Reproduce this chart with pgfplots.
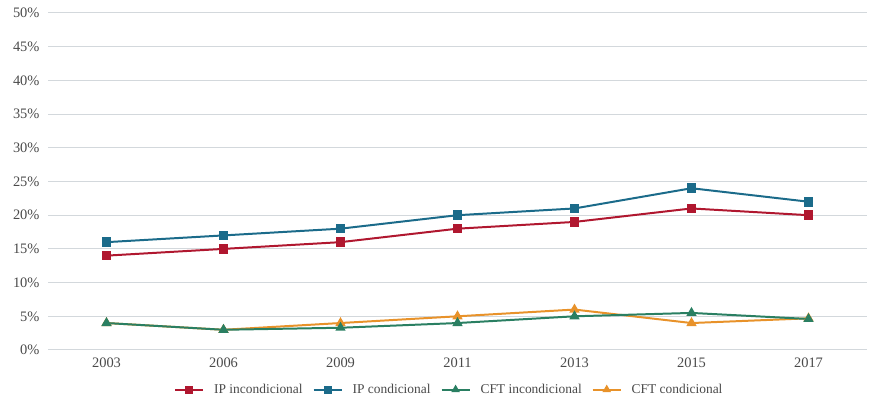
\documentclass[border=0pt]{standalone}
\usepackage{pgfplots}
\pgfplotsset{compat=1.18}
\usepackage{fontspec}
\setmainfont{Liberation Serif}
\definecolor{ipin}{HTML}{B0172F}
\definecolor{ipco}{HTML}{1B6B8A}
\definecolor{cftin}{HTML}{2A7F62}
\definecolor{cftco}{HTML}{E8922A}
\definecolor{txt}{HTML}{4A4A4A}
\definecolor{gridc}{HTML}{D3D8DC}
\begin{document}
\begin{tikzpicture}[x=1bp,y=1bp]
\begin{axis}[
    name=main,
    scale only axis,
    width=819bp,
    height=337bp,
    xmin=-0.5, xmax=6.5,
    ymin=0, ymax=50,
    xtick={0,...,6},
    xticklabels={2003,2006,2009,2011,2013,2015,2017},
    ytick={0,5,...,50},
    yticklabel={\pgfmathprintnumber{\tick}\%},
    axis line style={draw=none},
    major tick length=0pt,
    ymajorgrids=true,
    grid style={gridc, line width=1pt},
    tick label style={font=\fontsize{14.5}{16}\selectfont, text=txt},
    yticklabel style={xshift=-5bp},
    xticklabel style={yshift=-4bp},
    /pgf/number format/assume math mode=true,
    legend style={at={(0.49,-0.095)}, anchor=north, draw=none,
        font=\fontsize{13.5}{15}\selectfont, text=txt,
        legend columns=4, column sep=8pt, inner sep=0pt},
    legend image code/.code={\draw[mark repeat=2,mark phase=2,#1,mark size=3pt]
        plot coordinates {(0bp,0bp) (14bp,0bp) (28bp,0bp)};},
    every axis plot/.append style={line width=2pt},
]
\addplot[color=ipin, mark=square*, mark size=3.8bp] coordinates {(0,14) (1,15) (2,16) (3,18) (4,19) (5,21) (6,20)};
\addlegendentry{IP incondicional}
\addplot[color=ipco, mark=square*, mark size=3.8bp] coordinates {(0,16) (1,17) (2,18) (3,20) (4,21) (5,24) (6,22)};
\addlegendentry{IP condicional}
\addplot[color=cftco, mark=triangle*, mark size=4bp, forget plot] coordinates {(0,4) (1,3) (2,4) (3,5) (4,6) (5,4) (6,4.7)};
\addplot[color=cftin, mark=triangle*, mark size=4bp] coordinates {(0,4) (1,3) (2,3.3) (3,4) (4,5) (5,5.5) (6,4.6)};
\addlegendentry{CFT incondicional}
\addlegendimage{color=cftco, mark=triangle*, line width=2pt}
\addlegendentry{CFT condicional}
\end{axis}
\path (main.south west) ++(-48bp,-51bp);
\path (main.north east) ++(16bp,13bp);
\end{tikzpicture}
\end{document}
